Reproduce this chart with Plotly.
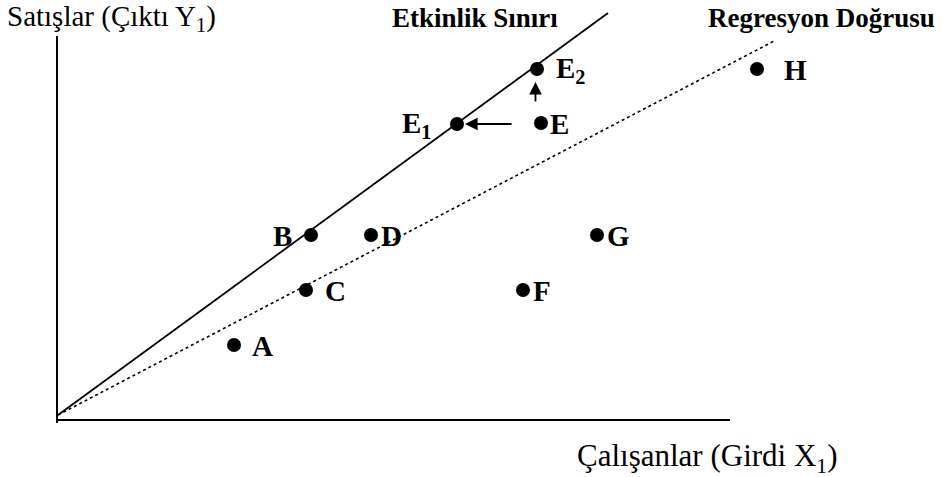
import plotly.graph_objects as go

# ---- data (arbitrary units) ----
point_names = ["A", "B", "C", "D", "E", "E1", "E2", "F", "G", "H"]
point_labels = ["A", "B", "C", "D", "E", "E<sub>1</sub>", "E<sub>2</sub>", "F", "G", "H"]
employees_x = [17.6, 25.3, 24.8, 31.3, 48.3, 39.9, 47.9, 46.5, 53.9, 69.9]
sales_y = [7.0, 18.0, 12.5, 18.0, 29.2, 29.1, 34.6, 12.5, 18.0, 34.6]

frontier_x = [0.0, 55.0]
frontier_y = [0.0, 40.2]
regression_x = [0.0, 71.8]
regression_y = [0.0, 37.5]

# ---- style ----
FONT = "Liberation Serif, Times New Roman, serif"
W, H = 943, 477
# label placement (anchor side, pixel shift)
label_style = {
    "A": ("left", 16), "B": ("right", -17), "C": ("left", 17), "D": ("left", 8),
    "E": ("left", 7), "E1": ("right", -24), "E2": ("left", 17), "F": ("left", 8),
    "G": ("left", 8), "H": ("left", 25),
}

fig = go.Figure()

# axes drawn as lines
fig.add_trace(go.Scatter(x=[-0.1, -0.1], y=[37.9, -0.8], mode="lines",
                         line=dict(color="black", width=2), hoverinfo="skip"))
fig.add_trace(go.Scatter(x=[-0.1, 67.2], y=[-0.5, -0.5], mode="lines",
                         line=dict(color="black", width=2), hoverinfo="skip"))

fig.add_trace(go.Scatter(x=frontier_x, y=frontier_y, mode="lines",
                         line=dict(color="black", width=1.8), hoverinfo="skip"))
fig.add_trace(go.Scatter(x=regression_x, y=regression_y, mode="lines",
                         line=dict(color="black", width=1.6, dash="dot"), hoverinfo="skip"))

fig.add_trace(go.Scatter(x=employees_x, y=sales_y, mode="markers",
                         marker=dict(color="black", size=14), hoverinfo="skip"))

for name, lab, xv, yv in zip(point_names, point_labels, employees_x, sales_y):
    side, shift = label_style[name]
    fig.add_annotation(x=xv, y=yv, xref="x", yref="y", text="<b>" + lab + "</b>",
                       showarrow=False, xanchor=side, yanchor="middle",
                       xshift=shift, yshift=-1,
                       font=dict(family=FONT, size=29, color="black"))

# arrows: E -> E1 and E -> E2
idx = {n: i for i, n in enumerate(point_names)}
ex, ey = employees_x[idx["E"]], sales_y[idx["E"]]
e1x = employees_x[idx["E1"]]
e2x, e2y = employees_x[idx["E2"]], sales_y[idx["E2"]]
fig.add_annotation(x=e1x + 0.8, y=ey - 0.1, ax=ex - 2.8, ay=ey - 0.1, xref="x", yref="y",
                   axref="x", ayref="y", showarrow=True, arrowhead=2,
                   arrowsize=1.4, arrowwidth=1.8, arrowcolor="black", text="")
fig.add_annotation(x=e2x - 0.15, y=e2y - 1.3, ax=e2x - 0.15, ay=e2y - 3.4, xref="x", yref="y",
                   axref="x", ayref="y", showarrow=True, arrowhead=2,
                   arrowsize=1.4, arrowwidth=1.8, arrowcolor="black", text="")

# titles
def ptext(txt, xpx, ypx, bold=False, size=20):
    fig.add_annotation(x=xpx / W, y=1 - ypx / H, xref="paper", yref="paper",
                       text=("<b>" + txt + "</b>") if bold else txt,
                       showarrow=False, xanchor="left", yanchor="middle",
                       font=dict(family=FONT, size=size, color="black"))

ptext("Satışlar (Çıktı Y<sub>1</sub>)", 5, 18, size=29)
ptext("Etkinlik Sınırı", 390, 18, bold=True, size=27)
ptext("Regresyon Doğrusu", 706, 18, bold=True, size=27)
ptext("Çalışanlar (Girdi X<sub>1</sub>)", 575, 458, size=31)

fig.update_layout(
    width=W, height=H, margin=dict(l=0, r=0, t=0, b=0),
    paper_bgcolor="white", plot_bgcolor="white", showlegend=False,
    xaxis=dict(range=[-5.8, 88.5], visible=False, fixedrange=True),
    yaxis=dict(range=[-6.2, 41.5], visible=False, fixedrange=True),
)
fig.write_html("out.html", config={"displayModeBar": False},
               post_script="document.body.style.margin='0px';")
